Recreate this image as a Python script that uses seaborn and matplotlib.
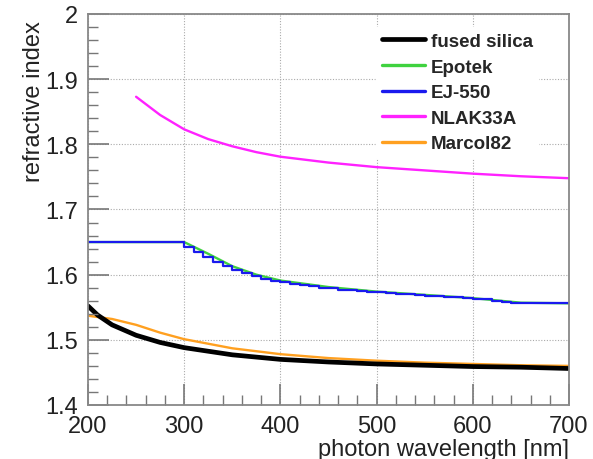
import numpy as np
import pandas as pd
import matplotlib
matplotlib.use("Agg")
import matplotlib.pyplot as plt
import seaborn as sns
from matplotlib.ticker import MultipleLocator

# ---- data ----
fs_wl = [200, 210, 225, 250, 275, 300, 350, 400, 450, 500, 550, 600, 650, 700]
fs_n = [1.552, 1.538, 1.523, 1.507, 1.496, 1.488, 1.477, 1.470, 1.466, 1.463, 1.461, 1.459, 1.458, 1.456]

epo_wl = [200, 300, 325, 350, 375, 400, 450, 500, 550, 600, 650, 700]
epo_n = [1.650, 1.650, 1.632, 1.613, 1.600, 1.591, 1.581, 1.574, 1.569, 1.564, 1.557, 1.556]

ej_wl = [200, 300, 310, 320, 330, 340, 350, 360, 370, 380, 390, 400,
         410, 420, 430, 440, 450, 460, 470, 480, 490, 500,
         510, 520, 530, 540, 550, 560, 570, 580, 590, 600,
         610, 620, 630, 640, 650, 660, 670, 680, 690, 700]
ej_n = [1.650, 1.650, 1.643, 1.635, 1.627, 1.620, 1.613, 1.607, 1.602, 1.598, 1.594, 1.590,
        1.588, 1.586, 1.584, 1.582, 1.580, 1.579, 1.577, 1.576, 1.575, 1.574,
        1.573, 1.572, 1.571, 1.570, 1.569, 1.568, 1.567, 1.566, 1.565, 1.564,
        1.563, 1.562, 1.560, 1.558, 1.556, 1.556, 1.556, 1.556, 1.556, 1.556]

nlak_wl = [250, 275, 300, 325, 350, 375, 400, 450, 500, 550, 600, 650, 700]
nlak_n = [1.873, 1.845, 1.823, 1.808, 1.797, 1.788, 1.781, 1.772, 1.765, 1.760, 1.755, 1.751, 1.748]

mar_wl = [200, 225, 250, 275, 300, 350, 400, 450, 500, 550, 600, 650, 700]
mar_n = [1.537, 1.532, 1.523, 1.511, 1.501, 1.487, 1.478, 1.472, 1.468, 1.465, 1.463, 1.461, 1.460]

x_ticks = [200, 300, 400, 500, 600, 700]
y_ticks = [1.4, 1.5, 1.6, 1.7, 1.8, 1.9, 2.0]
y_ticklabels = ["1.4", "1.5", "1.6", "1.7", "1.8", "1.9", "2"]

sns.set_style("ticks", rc={"xtick.direction": "in", "ytick.direction": "in"})
plt.rcParams['font.family'] = ['Liberation Sans', 'DejaVu Sans']

fig = plt.figure(figsize=(5.93, 4.60), dpi=100)
rect = [0.1484, 0.1174, 0.9595 - 0.1484, 0.9674 - 0.1174]
ax = fig.add_axes(rect)

series = [
    ("fused silica", fs_wl, fs_n, "black", 3.4, "default", 6),
    ("Epotek", epo_wl, epo_n, "#3fd23f", 1.7, "default", 3),
    ("EJ-550", ej_wl, ej_n, "#1a1aee", 1.6, "steps-pre", 4),
    ("NLAK33A", nlak_wl, nlak_n, "#ff22ff", 1.7, "default", 3),
    ("Marcol82", mar_wl, mar_n, "#ffa020", 1.7, "default", 5),
]
handles = []
for name, wl, n, c, lw, ds, z in series:
    df = pd.DataFrame({"wl": wl, "n": n})
    sns.lineplot(data=df, x="wl", y="n", ax=ax, color=c, linewidth=lw,
                 drawstyle=ds, zorder=z, label=name, legend=False)
    handles.append(ax.lines[-1])

ax.set_xlim(200, 700)
ax.set_ylim(1.4, 2.0)
ax.set_xticks(x_ticks)
ax.set_xticklabels([str(v) for v in x_ticks])
ax.set_yticks(y_ticks)
ax.set_yticklabels(y_ticklabels)
ax.tick_params(axis="both", which="major", length=0, labelsize=17,
               labelcolor="#222222", pad=7)
ax.grid(True, which="major", linestyle=(0, (1, 1.5)), color="#aaaaaa", linewidth=0.8)
ax.set_axisbelow(True)
for sp in ax.spines.values():
    sp.set_visible(False)

ax.set_xlabel("photon wavelength [nm]", fontsize=17, color="#222222", loc="right", labelpad=1)
ax.set_ylabel("refractive index", fontsize=17, color="#222222", loc="top", labelpad=0)
ax.yaxis.label.set_position((0, 0.985))

leg = ax.legend(handles=handles, labels=[s[0] for s in series], loc="upper left",
                bbox_to_anchor=(0.58, 0.99), frameon=True, fancybox=False,
                framealpha=1, edgecolor="white", facecolor="white",
                prop={"weight": "bold", "size": 13.5}, handlelength=2.3,
                handletextpad=0.3, labelspacing=0.45, borderpad=0.3)
for lh in leg.get_lines():
    lh.set_linewidth(2.4)
leg.get_lines()[0].set_linewidth(3.4)

# overlay axes for frame and inward ticks
ax2 = fig.add_axes(rect, sharex=ax, sharey=ax)
ax2.patch.set_visible(False)
ax2.xaxis.set_minor_locator(MultipleLocator(20))
ax2.yaxis.set_minor_locator(MultipleLocator(0.02))
ax2.tick_params(axis="both", which="both", direction="in", bottom=True, left=True,
                top=False, right=False, labelbottom=False, labelleft=False)
ax2.tick_params(axis="both", which="major", length=15, width=1.2, color="#777777")
ax2.tick_params(axis="both", which="minor", length=7, width=1.0, color="#777777")
ax2.set_xlabel("")
ax2.set_ylabel("")
for sp in ax2.spines.values():
    sp.set_visible(True)
    sp.set_color("#888888")
    sp.set_linewidth(1.3)

fig.savefig("out.png", dpi=100)
